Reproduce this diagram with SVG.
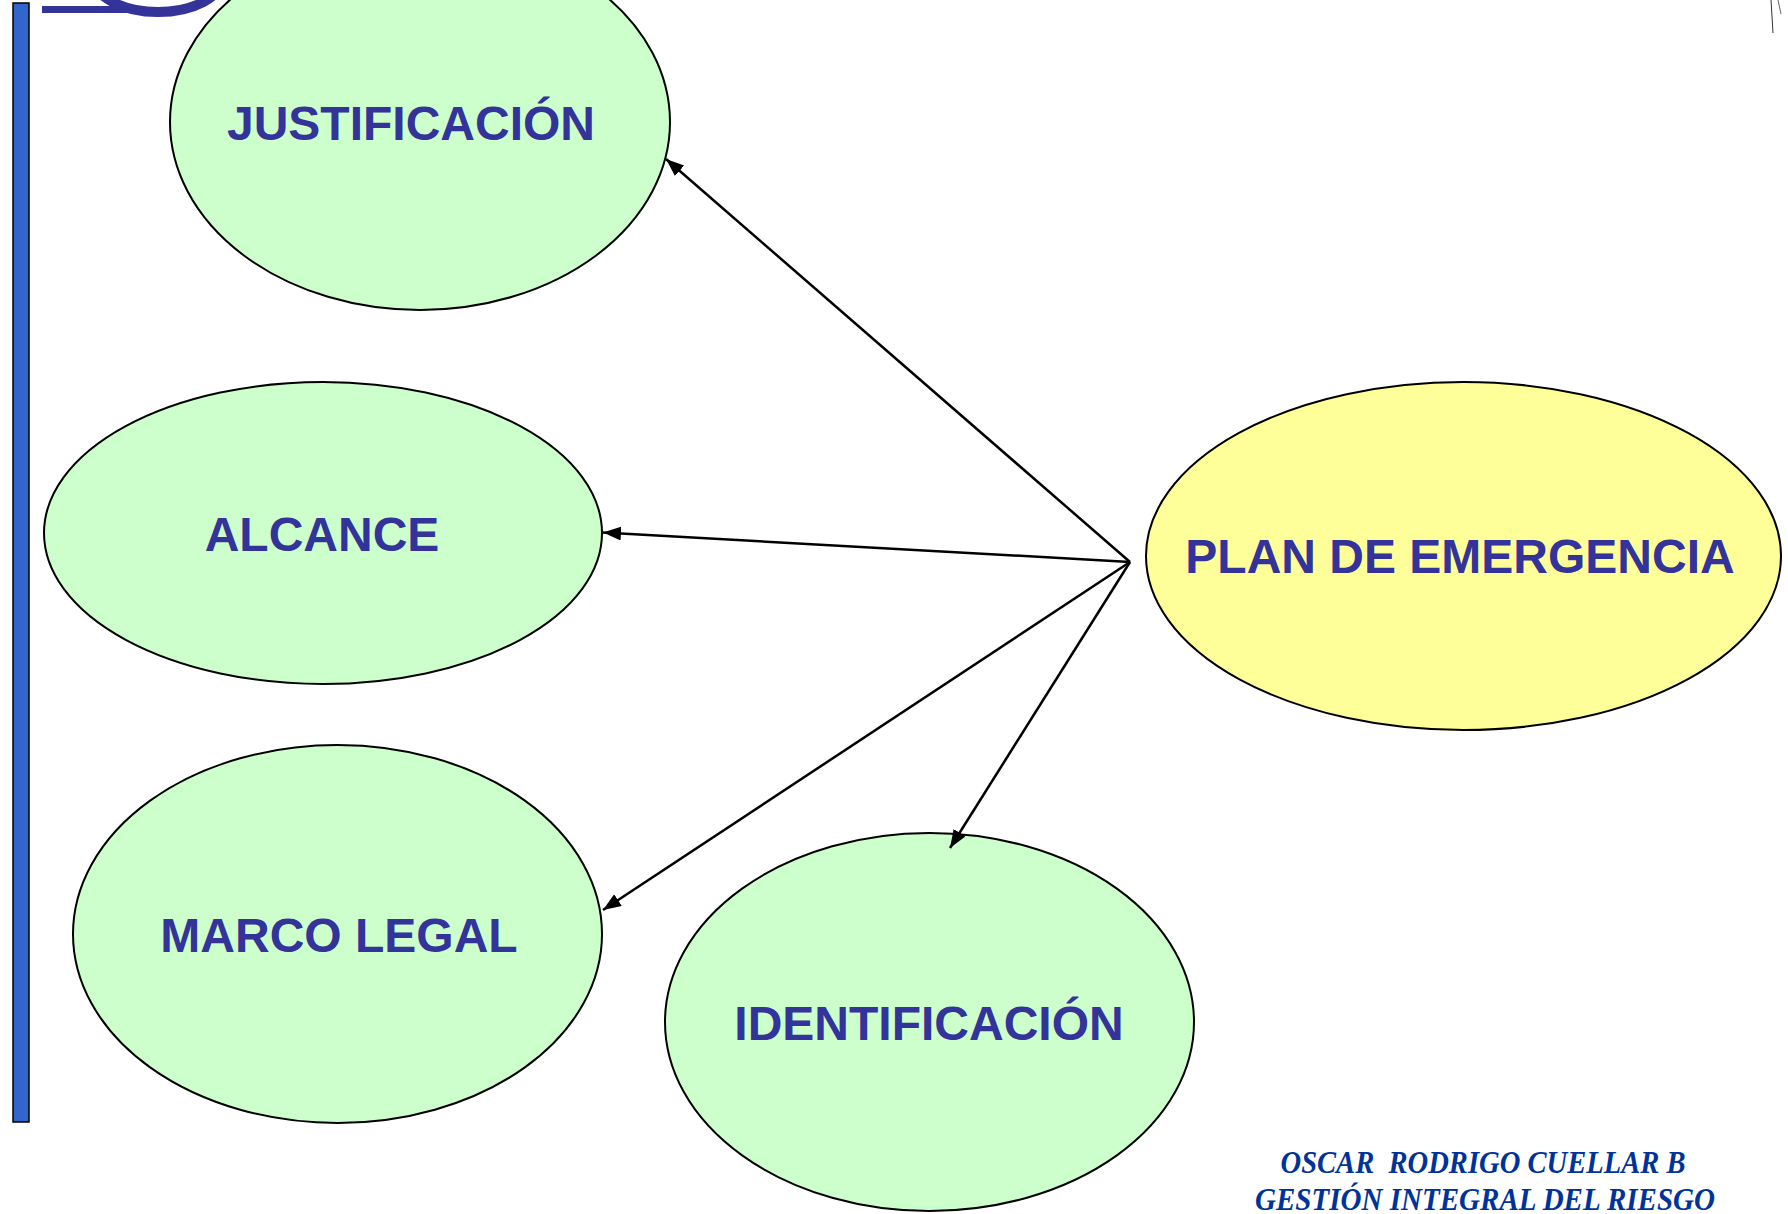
<svg xmlns="http://www.w3.org/2000/svg" width="1788" height="1214" viewBox="0 0 1788 1214">
<style>
.node ellipse{stroke:#000;stroke-width:2}
.green{fill:#ccffcc}
.yellow{fill:#ffff99}
.lbl{font-family:"Liberation Sans",Arial,sans-serif;font-weight:bold;font-size:48px;fill:#333399;text-anchor:middle}
.conn{stroke:#000;stroke-width:2.5;fill:none;marker-end:url(#arr)}
.foot{font-family:"Liberation Serif","Times New Roman",serif;font-style:italic;font-weight:bold;font-size:31px;fill:#003399;text-anchor:middle;white-space:pre}
</style>
<defs>
<marker id="arr" markerUnits="userSpaceOnUse" markerWidth="20" markerHeight="16" refX="18" refY="7" orient="auto">
<path d="M0,0 L18,7 L0,14 z" fill="#000"/>
</marker>
</defs>
<rect width="1788" height="1214" fill="#fff"/>
<g id="decor">
<rect x="13" y="3" width="16" height="1119" fill="#3366cc" stroke="#000" stroke-width="1.5"/>
<rect x="42" y="6" width="90" height="7" fill="#333399"/>
<ellipse cx="158" cy="-22" rx="64" ry="34" fill="none" stroke="#333399" stroke-width="10"/>
<line x1="1771" y1="0" x2="1773" y2="33" stroke="#333" stroke-width="1"/>
<line x1="1778" y1="0" x2="1781" y2="14" stroke="#666" stroke-width="1"/>
</g>
<g id="n-justificacion" class="node">
<ellipse class="green" cx="420" cy="122" rx="250" ry="188"/>
<text class="lbl" x="411" y="140">JUSTIFICACIÓN</text>
</g>
<g id="n-alcance" class="node">
<ellipse class="green" cx="323" cy="533" rx="279" ry="151"/>
<text class="lbl" x="322" y="551">ALCANCE</text>
</g>
<g id="n-marco" class="node">
<ellipse class="green" cx="337.5" cy="934" rx="264.5" ry="189"/>
<text class="lbl" x="339" y="952">MARCO LEGAL</text>
</g>
<g id="n-identificacion" class="node">
<ellipse class="green" cx="929.5" cy="1022" rx="264.5" ry="189"/>
<text class="lbl" x="929" y="1040">IDENTIFICACIÓN</text>
</g>
<g id="n-plan" class="node">
<ellipse class="yellow" cx="1463.5" cy="556" rx="317.5" ry="174"/>
<text class="lbl" x="1460" y="573">PLAN DE EMERGENCIA</text>
</g>
<g id="connectors">
<line class="conn" x1="1130" y1="562" x2="666" y2="159"/>
<line class="conn" x1="1130" y1="562" x2="603" y2="532.5"/>
<line class="conn" x1="1130" y1="562" x2="603" y2="910"/>
<line class="conn" x1="1130" y1="562" x2="950" y2="848"/>
</g>
<g id="footer">
<text class="foot" x="1483" y="1173" textLength="405" lengthAdjust="spacingAndGlyphs">OSCAR  RODRIGO CUELLAR B</text>
<text class="foot" x="1485" y="1210" textLength="460" lengthAdjust="spacingAndGlyphs">GESTIÓN INTEGRAL DEL RIESGO</text>
</g>
</svg>
